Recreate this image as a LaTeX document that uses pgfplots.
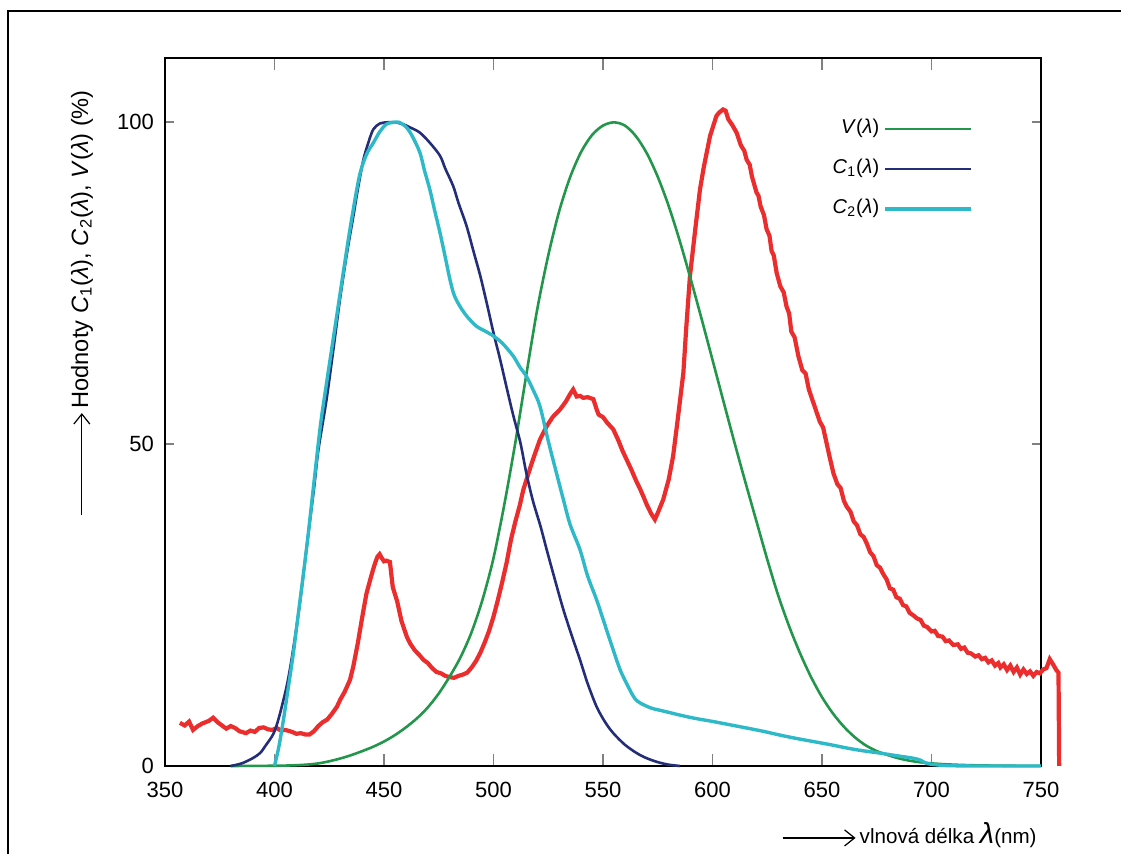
\documentclass[border=0pt]{standalone}
\usepackage{fontspec}
\setmainfont{Liberation Sans}
\usepackage{pgfplots}
\pgfplotsset{compat=1.18}
\usetikzlibrary{arrows.meta}
\definecolor{cV}{RGB}{34,150,75}
\definecolor{cA}{RGB}{35,45,120}
\definecolor{cB}{RGB}{45,185,200}
\definecolor{cR}{RGB}{235,45,45}
\begin{document}
\begin{tikzpicture}
\useasboundingbox (0,0) rectangle (560.5pt,427pt);
\draw[line width=0.8pt] (4pt,0) -- (4pt,421.5pt) -- (560.5pt,421.5pt);
\begin{axis}[
  at={(82.5pt,44pt)}, anchor=south west,
  width=438pt, height=354pt, scale only axis,
  xmin=350, xmax=750, ymin=0, ymax=110,
  xtick={350,400,...,750}, ytick={0,50,100},
  clip=false,
  axis line style={line width=0.9pt},
  tick align=inside,
  xtick style={line width=0.9pt, /pgfplots/major tick length=6pt},
  ytick style={line width=0.9pt, /pgfplots/major tick length=4.5pt},
  /pgf/number format/assume math mode=true,
  tick label style={font=\fontsize{11}{13}\selectfont},
  xticklabel style={yshift=-4.5pt},
  yticklabel style={xshift=-2pt},
  xlabel={\tikz[baseline=-0.5ex]\draw[line width=0.6pt,-{Straight Barb[length=5pt,width=8pt]}] (0,0)--(36.5pt,0);\,vlnová délka {\fontsize{14.5}{14.5}\selectfont\textit{λ}}(nm)},
  xlabel style={at={(axis description cs:1,0)}, anchor=east, yshift=-34.5pt, xshift=-2pt, inner sep=0pt, font=\fontsize{10.3}{13}\selectfont},
  ylabel={\tikz[baseline=-0.5ex]\draw[line width=0.6pt,-{Straight Barb[length=5pt,width=8pt]}] (0,0)--(51pt,0);\,Hodnoty \textit{C}\textsubscript{1}(\textit{λ}), \textit{C}\textsubscript{2}(\textit{λ}), \textit{V}(\textit{λ}) (\%)},
  ylabel style={at={(axis description cs:0,0.654)}, anchor=center, yshift=41.5pt, inner sep=0pt, font=\fontsize{11.8}{13}\selectfont},
  legend plot pos=right,
  legend cell align=right,
  legend image code/.code={\draw[#1] (0pt,0pt) -- (43pt,0pt);},
  legend style={draw=none, fill=none, at={(0.9224,0.9145)}, anchor=north east,
    inner sep=0pt, row sep=10pt, font=\fontsize{10}{12}\selectfont,
    nodes={inner ysep=0pt, inner xsep=2pt, text height=7.5pt, text depth=2.5pt}},
]
\addplot[cR, line width=2.1pt, forget plot] coordinates {
(356.8,6.7)(359,6.3)(361,6.9)(362.8,5.6)(365,6.2)(367,6.6)(370,7.0)(372,7.5)(374,6.8)(376,6.3)
(378,5.8)(380,6.2)(382,5.9)(384,5.4)(387,5.1)(389,5.5)(391,5.3)(393,5.9)(395,6.0)(397,5.7)
(399,5.6)(401,5.9)(403,5.5)(405,5.6)(408,5.3)(410,5.0)(412,5.1)(414,4.9)(416,4.9)(418,5.4)
(420,6.2)(422,6.8)(424,7.2)(426,8.0)(428.5,9.2)(430,10.3)(432,11.5)(434.5,13.4)(436,15.5)(438,19.0)
(440.4,23.8)(442,26.8)(444,29.3)(445,30.5)(446,31.6)(447,32.5)(448,32.9)(449,32.3)(450,31.8)(451,31.9)
(452.7,31.7)(454,27.8)(456,25.6)(458,22.5)(460.5,20.0)(462,19.0)(464,18.0)(466,17.3)(468,16.5)(470,16.0)
(472,15.2)(474,14.6)(476,14.4)(478,14.0)(480,13.8)(482,13.7)(484,14.0)(486,14.2)(488,14.5)(490,15.3)
(492,16.3)(494,17.6)(496,19.2)(498,21.0)(500,23.2)(502,25.8)(504,28.6)(506,31.6)(508,35.2)(510,38.0)
(512,40.5)(513.6,42.9)(516,45.5)(518,47.6)(521.2,50.7)(524.3,52.8)(527,54.2)(530.4,55.4)(533,56.6)(535,57.8)
(536.4,58.5)(538,57.4)(539.5,57.5)(541,57.2)(543,57.3)(545.6,57.0)(547,55.5)(548,54.6)(550,54.2)(552,53.3)
(554.7,52.3)(557,50.6)(559,48.9)(560.8,47.6)(563,46.0)(565,44.4)(567,43.0)(568.4,41.9)(570,40.6)(572,39.2)
(573.7,38.3)(575,39.3)(577.5,41.4)(580,44.5)(582,48.1)(584,53.5)(586.7,61.1)(588,68.0)(589.7,76.1)(592,83.0)
(594.3,89.6)(596,93.0)(598.9,97.9)(601.8,101)(603,101.5)(604.8,102)(606,101.8)(607.2,100.5)(609,99.6)(611,98.4)
(613,96.4)(614.5,95.6)(615.6,94.2)(617,93.4)(618,91.6)(620.1,89.1)(621,88.6)(622,86.9)(623.5,85.6)(624.7,83.4)
(626,82.4)(627,80.0)(628,79.3)(629.3,76.6)(631,74.5)(632.5,73.6)(633.8,71.4)(635,70.3)(636,67.5)(637.5,66.6)
(639.2,63.7)(641,61.5)(642.5,61.0)(644,58.5)(646,56.5)(647.5,55.0)(649,53.5)(650.5,52.6)(652,50.3)(653.5,48.0)
(655.2,45.5)(657,43.8)(658.5,43.2)(660,41.2)(661.3,40.3)(663,39.5)(664.5,38.0)(666,37.4)(667.5,36.0)(669,35.6)
(670.4,34.6)(672,33.2)(673.5,32.6)(675,31.2)(676.5,30.8)(678,29.8)(679.5,29.0)(681,27.6)(682.5,27.4)(684,26.2)
(685.5,26.0)(687,25.0)(688.5,24.8)(690,23.8)(691.7,23.4)(693.5,22.9)(695,22.7)(696.5,21.8)(698,21.6)(700,20.9)
(701.5,21.0)(703,20.2)(705,20.1)(706.5,19.4)(708,19.5)(710,18.8)(712,18.9)(713.5,18.2)(715,18.4)(716.5,17.6)
(718,17.5)(720,17.0)(721.5,17.2)(723,16.6)(724.5,16.8)(726,16.1)(727.5,16.4)(729,15.6)(730.5,16.0)(731.5,15.3)
(733,15.8)(734.5,14.9)(736,15.6)(737.5,14.6)(739,15.3)(740.5,14.2)(742,15.0)(743.5,14.3)(745,14.7)(746.5,14.0)
(748,14.6)(749.5,14.4)(751,15.0)(752.5,15.2)(754,16.6)(755.5,15.8)(757,14.9)(758,14.5)(758.3,0)
};
\addplot[cV, line width=1.3pt, smooth] coordinates {
(380,0.004)(385,0.006)(390,0.012)(395,0.022)(400,0.04)(405,0.064)(410,0.12)(415,0.22)(420,0.4)(425,0.73)
(430,1.16)(435,1.68)(440,2.3)(445,2.98)(450,3.8)(455,4.8)(460,6.0)(465,7.39)(470,9.1)(475,11.26)
(480,13.9)(485,16.93)(490,20.8)(495,25.86)(500,32.3)(505,40.73)(510,50.3)(515,60.82)(520,71.0)(525,79.32)
(530,86.2)(535,91.49)(540,95.4)(545,98.03)(550,99.5)(555,100)(560,99.5)(565,97.86)(570,95.2)(575,91.54)
(580,87.0)(585,81.63)(590,75.7)(595,69.49)(600,63.1)(605,56.67)(610,50.3)(615,44.12)(620,38.1)(625,32.1)
(630,26.5)(635,21.7)(640,17.5)(645,13.82)(650,10.7)(655,8.16)(660,6.1)(665,4.46)(670,3.2)(675,2.32)
(680,1.7)(685,1.19)(690,0.82)(695,0.57)(700,0.41)(705,0.29)(710,0.21)(715,0.15)(720,0.105)(730,0.052)
(740,0.025)(750,0.012)
};
\addlegendentry{\textit{V}(\textit{λ})}
\addplot[cA, line width=1.3pt, smooth] coordinates {
(380,0)(385,0.4)(390,1.2)(393.4,2)(396,3.2)(399.5,5)(402,7.5)(405.5,12.3)(408,17)(411.6,25.3)
(414.7,34)(418,43)(420,49)(423.8,57)(427,65)(429.9,72.5)(433,79.5)(436,85.4)(438,89.5)(440.6,94.2)
(443,97)(445.1,98.9)(448,99.8)(451.2,100)(455,100)(458.8,99.7)(462,99.2)(466.4,98.4)(471,96.8)(475.6,94.8)
(478,92.8)(481.6,90.1)(484,87.5)(487.7,83.9)(491,79.8)(494,76.1)(497,71.8)(500,67.3)(503,63.2)(506.2,58.5)
(509,54.5)(512.3,50.2)(515,45.5)(518,41.2)(521.5,37.2)(524.3,33.6)(528,29)(531.9,24.3)(536,20)(539.5,16.5)
(543,12.8)(547.1,9.2)(551,6.8)(554.7,5.1)(560,3.3)(565.4,2)(570,1.2)(575,0.6)(580,0.2)(585.2,0)
};
\addlegendentry{\textit{C}\textsubscript{1}(\textit{λ})}
\addplot[cB, line width=1.7pt, smooth] coordinates {
(400,0)(402,3)(404,7)(406,11.5)(408.6,17.5)(411,24)(414.7,34)(418,44)(421,53)(424,60)
(428.4,69.9)(432,78)(435,84.5)(438.8,91.7)(442,95)(445.1,96.8)(448,98.5)(451,99.7)(454.2,100)(457,100)
(460.3,99.2)(463,97.8)(466.4,95.3)(468.5,92.5)(470.9,89.6)(473,86.5)(475.6,82.8)(478,79)(480.1,75.6)(482,73.2)
(484.7,71.4)(488,69.8)(492.3,68.3)(496,67.6)(500,66.8)(504,65.7)(509,63.7)(512,62)(515.1,60.5)(518,58.5)
(521.2,55.9)(525,50.5)(528,46.5)(531.9,41.4)(535,37.5)(539.5,33.6)(543,29.5)(547.1,25.8)(551,21.8)(554.7,18)
(558,14.8)(562.3,11.8)(564.5,10.5)(566.9,9.8)(572,9.0)(578,8.5)(585.2,7.9)(592,7.4)(600.4,6.9)(608,6.4)
(615.6,5.9)(623,5.4)(630.8,4.8)(638,4.3)(646,3.8)(654,3.3)(661.2,2.8)(668,2.4)(676.5,2)(684,1.6)
(691.7,1.2)(695,0.9)(697.8,0.4)(703,0.15)(708,0.05)(720,0)(750,0)
};
\addlegendentry{\textit{C}\textsubscript{2}(\textit{λ})}
\end{axis}
\end{tikzpicture}
\end{document}
